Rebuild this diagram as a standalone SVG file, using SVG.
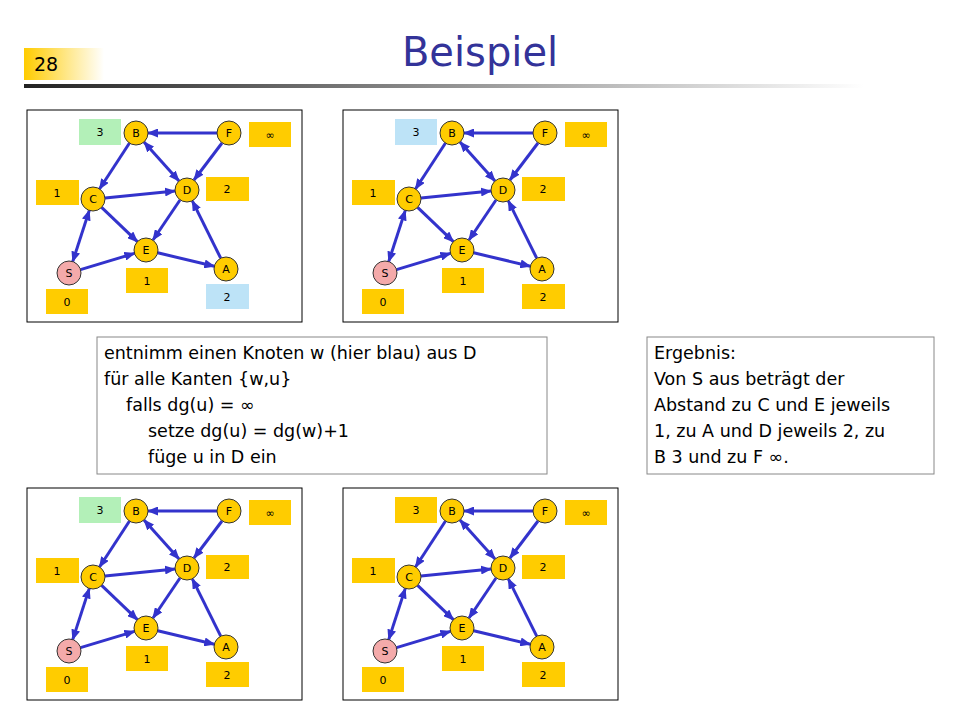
<svg xmlns="http://www.w3.org/2000/svg" xmlns:xlink="http://www.w3.org/1999/xlink" width="960" height="720" viewBox="0 0 960 720">
<style>
text{font-family:"DejaVu Sans","Liberation Sans",sans-serif}
.frame{fill:#fff;stroke:#000;stroke-width:1}
.n{fill:#FFCC00;stroke:#333;stroke-width:1}
.s{fill:#F4AAAA;stroke:#333;stroke-width:1}
.nt{font-size:11px;text-anchor:middle;fill:#000}
.lo{fill:#FFCC00}.lg{fill:#B3F0B8}.lb{fill:#BDE3F7}
.lt{font-size:11px;text-anchor:middle;fill:#000}
.e{stroke:#3333CC;stroke-width:3;fill:none;marker-end:url(#ah)}
.bi{marker-start:url(#ah)}
.box{fill:#fff;stroke:#888;stroke-width:1}
.bt{font-size:17.5px;fill:#000}
</style>
<defs>
<marker id="ah" markerUnits="userSpaceOnUse" markerWidth="11" markerHeight="9" refX="10" refY="4.5" orient="auto-start-reverse"><path d="M0,0 L11,4.5 L0,9 z" fill="#3333CC"/></marker>
<linearGradient id="g28" x1="0" x2="1"><stop offset="0" stop-color="#FFCC00"/><stop offset="1" stop-color="#fff"/></linearGradient>
<linearGradient id="gl" x1="0" x2="1"><stop offset="0" stop-color="#222"/><stop offset="1" stop-color="#fff"/></linearGradient>
</defs>
<rect x="24" y="48" width="80" height="32" fill="url(#g28)"/>
<text x="34" y="71" font-size="19" fill="#000">28</text>
<text x="480" y="66" font-size="40" fill="#333399" text-anchor="middle">Beispiel</text>
<rect x="24" y="84" width="840" height="4" fill="url(#gl)"/>

<g id="panel1" transform="translate(0,0)">
<rect class="frame" x="27" y="110" width="275" height="212"/>
<g id="p1-edges">
<line class="e" x1="217" y1="133" x2="148" y2="133"/>
<line class="e" x1="222" y1="143" x2="194" y2="180"/>
<line class="e bi" x1="144" y1="142" x2="179" y2="181"/>
<line class="e" x1="129.5" y1="143" x2="99.5" y2="189"/>
<line class="e" x1="105" y1="198" x2="175" y2="191"/>
<line class="e" x1="101.6" y1="207.3" x2="137.4" y2="241.7"/>
<line class="e" x1="180" y1="200" x2="153" y2="240"/>
<line class="e bi" x1="72.7" y1="261.6" x2="89.3" y2="210.4"/>
<line class="e" x1="80.5" y1="269.6" x2="134.5" y2="253.4"/>
<line class="e" x1="157.7" y1="252.8" x2="214.3" y2="266.2"/>
<line class="e" x1="220.7" y1="258.2" x2="192.3" y2="200.8"/>
</g>
<g id="p1-B"><rect class="lg" x="79" y="119" width="42" height="26"/><text class="lt" x="100" y="136">3</text><circle class="n" cx="136" cy="133" r="12"/><text class="nt" x="136" y="137">B</text></g>
<g id="p1-F"><rect class="lo" x="249" y="122" width="42" height="25"/><text class="lt" x="270" y="139">∞</text><circle class="n" cx="229" cy="133" r="12"/><text class="nt" x="229" y="137">F</text></g>
<g id="p1-D"><rect class="lo" x="206" y="177" width="43" height="24"/><text class="lt" x="227" y="193">2</text><circle class="n" cx="187" cy="190" r="12"/><text class="nt" x="187" y="194">D</text></g>
<g id="p1-C"><rect class="lo" x="36" y="180" width="43" height="25"/><text class="lt" x="57" y="197">1</text><circle class="n" cx="93" cy="199" r="12"/><text class="nt" x="93" y="203">C</text></g>
<g id="p1-E"><rect class="lo" x="126" y="268" width="42" height="25"/><text class="lt" x="147" y="285">1</text><circle class="n" cx="146" cy="250" r="12"/><text class="nt" x="146" y="254">E</text></g>
<g id="p1-S"><rect class="lo" x="46" y="289" width="42" height="25"/><text class="lt" x="67" y="306">0</text><circle class="s" cx="69" cy="273" r="12"/><text class="nt" x="69" y="277">S</text></g>
<g id="p1-A"><rect class="lb" x="206" y="284" width="43" height="25"/><text class="lt" x="227" y="301">2</text><circle class="n" cx="226" cy="269" r="12"/><text class="nt" x="226" y="273">A</text></g>
</g>

<g id="panel2" transform="translate(316,0)">
<rect class="frame" x="27" y="110" width="275" height="212"/>
<g id="p2-edges">
<line class="e" x1="217" y1="133" x2="148" y2="133"/>
<line class="e" x1="222" y1="143" x2="194" y2="180"/>
<line class="e bi" x1="144" y1="142" x2="179" y2="181"/>
<line class="e" x1="129.5" y1="143" x2="99.5" y2="189"/>
<line class="e" x1="105" y1="198" x2="175" y2="191"/>
<line class="e" x1="101.6" y1="207.3" x2="137.4" y2="241.7"/>
<line class="e" x1="180" y1="200" x2="153" y2="240"/>
<line class="e bi" x1="72.7" y1="261.6" x2="89.3" y2="210.4"/>
<line class="e" x1="80.5" y1="269.6" x2="134.5" y2="253.4"/>
<line class="e" x1="157.7" y1="252.8" x2="214.3" y2="266.2"/>
<line class="e" x1="220.7" y1="258.2" x2="192.3" y2="200.8"/>
</g>
<g id="p2-B"><rect class="lb" x="79" y="119" width="42" height="26"/><text class="lt" x="100" y="136">3</text><circle class="n" cx="136" cy="133" r="12"/><text class="nt" x="136" y="137">B</text></g>
<g id="p2-F"><rect class="lo" x="249" y="122" width="42" height="25"/><text class="lt" x="270" y="139">∞</text><circle class="n" cx="229" cy="133" r="12"/><text class="nt" x="229" y="137">F</text></g>
<g id="p2-D"><rect class="lo" x="206" y="177" width="43" height="24"/><text class="lt" x="227" y="193">2</text><circle class="n" cx="187" cy="190" r="12"/><text class="nt" x="187" y="194">D</text></g>
<g id="p2-C"><rect class="lo" x="36" y="180" width="43" height="25"/><text class="lt" x="57" y="197">1</text><circle class="n" cx="93" cy="199" r="12"/><text class="nt" x="93" y="203">C</text></g>
<g id="p2-E"><rect class="lo" x="126" y="268" width="42" height="25"/><text class="lt" x="147" y="285">1</text><circle class="n" cx="146" cy="250" r="12"/><text class="nt" x="146" y="254">E</text></g>
<g id="p2-S"><rect class="lo" x="46" y="289" width="42" height="25"/><text class="lt" x="67" y="306">0</text><circle class="s" cx="69" cy="273" r="12"/><text class="nt" x="69" y="277">S</text></g>
<g id="p2-A"><rect class="lo" x="206" y="284" width="43" height="25"/><text class="lt" x="227" y="301">2</text><circle class="n" cx="226" cy="269" r="12"/><text class="nt" x="226" y="273">A</text></g>
</g>

<g id="panel3" transform="translate(0,378)">
<rect class="frame" x="27" y="110" width="275" height="212"/>
<g id="p3-edges">
<line class="e" x1="217" y1="133" x2="148" y2="133"/>
<line class="e" x1="222" y1="143" x2="194" y2="180"/>
<line class="e bi" x1="144" y1="142" x2="179" y2="181"/>
<line class="e" x1="129.5" y1="143" x2="99.5" y2="189"/>
<line class="e" x1="105" y1="198" x2="175" y2="191"/>
<line class="e" x1="101.6" y1="207.3" x2="137.4" y2="241.7"/>
<line class="e" x1="180" y1="200" x2="153" y2="240"/>
<line class="e bi" x1="72.7" y1="261.6" x2="89.3" y2="210.4"/>
<line class="e" x1="80.5" y1="269.6" x2="134.5" y2="253.4"/>
<line class="e" x1="157.7" y1="252.8" x2="214.3" y2="266.2"/>
<line class="e" x1="220.7" y1="258.2" x2="192.3" y2="200.8"/>
</g>
<g id="p3-B"><rect class="lg" x="79" y="119" width="42" height="26"/><text class="lt" x="100" y="136">3</text><circle class="n" cx="136" cy="133" r="12"/><text class="nt" x="136" y="137">B</text></g>
<g id="p3-F"><rect class="lo" x="249" y="122" width="42" height="25"/><text class="lt" x="270" y="139">∞</text><circle class="n" cx="229" cy="133" r="12"/><text class="nt" x="229" y="137">F</text></g>
<g id="p3-D"><rect class="lo" x="206" y="177" width="43" height="24"/><text class="lt" x="227" y="193">2</text><circle class="n" cx="187" cy="190" r="12"/><text class="nt" x="187" y="194">D</text></g>
<g id="p3-C"><rect class="lo" x="36" y="180" width="43" height="25"/><text class="lt" x="57" y="197">1</text><circle class="n" cx="93" cy="199" r="12"/><text class="nt" x="93" y="203">C</text></g>
<g id="p3-E"><rect class="lo" x="126" y="268" width="42" height="25"/><text class="lt" x="147" y="285">1</text><circle class="n" cx="146" cy="250" r="12"/><text class="nt" x="146" y="254">E</text></g>
<g id="p3-S"><rect class="lo" x="46" y="289" width="42" height="25"/><text class="lt" x="67" y="306">0</text><circle class="s" cx="69" cy="273" r="12"/><text class="nt" x="69" y="277">S</text></g>
<g id="p3-A"><rect class="lo" x="206" y="284" width="43" height="25"/><text class="lt" x="227" y="301">2</text><circle class="n" cx="226" cy="269" r="12"/><text class="nt" x="226" y="273">A</text></g>
</g>

<g id="panel4" transform="translate(316,378)">
<rect class="frame" x="27" y="110" width="275" height="212"/>
<g id="p4-edges">
<line class="e" x1="217" y1="133" x2="148" y2="133"/>
<line class="e" x1="222" y1="143" x2="194" y2="180"/>
<line class="e bi" x1="144" y1="142" x2="179" y2="181"/>
<line class="e" x1="129.5" y1="143" x2="99.5" y2="189"/>
<line class="e" x1="105" y1="198" x2="175" y2="191"/>
<line class="e" x1="101.6" y1="207.3" x2="137.4" y2="241.7"/>
<line class="e" x1="180" y1="200" x2="153" y2="240"/>
<line class="e bi" x1="72.7" y1="261.6" x2="89.3" y2="210.4"/>
<line class="e" x1="80.5" y1="269.6" x2="134.5" y2="253.4"/>
<line class="e" x1="157.7" y1="252.8" x2="214.3" y2="266.2"/>
<line class="e" x1="220.7" y1="258.2" x2="192.3" y2="200.8"/>
</g>
<g id="p4-B"><rect class="lo" x="79" y="119" width="42" height="26"/><text class="lt" x="100" y="136">3</text><circle class="n" cx="136" cy="133" r="12"/><text class="nt" x="136" y="137">B</text></g>
<g id="p4-F"><rect class="lo" x="249" y="122" width="42" height="25"/><text class="lt" x="270" y="139">∞</text><circle class="n" cx="229" cy="133" r="12"/><text class="nt" x="229" y="137">F</text></g>
<g id="p4-D"><rect class="lo" x="206" y="177" width="43" height="24"/><text class="lt" x="227" y="193">2</text><circle class="n" cx="187" cy="190" r="12"/><text class="nt" x="187" y="194">D</text></g>
<g id="p4-C"><rect class="lo" x="36" y="180" width="43" height="25"/><text class="lt" x="57" y="197">1</text><circle class="n" cx="93" cy="199" r="12"/><text class="nt" x="93" y="203">C</text></g>
<g id="p4-E"><rect class="lo" x="126" y="268" width="42" height="25"/><text class="lt" x="147" y="285">1</text><circle class="n" cx="146" cy="250" r="12"/><text class="nt" x="146" y="254">E</text></g>
<g id="p4-S"><rect class="lo" x="46" y="289" width="42" height="25"/><text class="lt" x="67" y="306">0</text><circle class="s" cx="69" cy="273" r="12"/><text class="nt" x="69" y="277">S</text></g>
<g id="p4-A"><rect class="lo" x="206" y="284" width="43" height="25"/><text class="lt" x="227" y="301">2</text><circle class="n" cx="226" cy="269" r="12"/><text class="nt" x="226" y="273">A</text></g>
</g>

<g id="algo">
<rect class="box" x="97" y="337" width="450" height="137"/>
<text class="bt" x="104" y="359">entnimm einen Knoten w (hier blau) aus D</text>
<text class="bt" x="104" y="385">für alle Kanten {w,u}</text>
<text class="bt" x="126" y="411">falls dg(u) = ∞</text>
<text class="bt" x="148" y="437">setze dg(u) = dg(w)+1</text>
<text class="bt" x="148" y="463">füge u in D ein</text>
</g>
<g id="result">
<rect class="box" x="647" y="337" width="287" height="137"/>
<text class="bt" x="654" y="359">Ergebnis:</text>
<text class="bt" x="654" y="385">Von S aus beträgt der</text>
<text class="bt" x="654" y="411">Abstand zu C und E jeweils</text>
<text class="bt" x="654" y="437">1, zu A und D jeweils 2, zu</text>
<text class="bt" x="654" y="463">B 3 und zu F ∞.</text>
</g>
</svg>
